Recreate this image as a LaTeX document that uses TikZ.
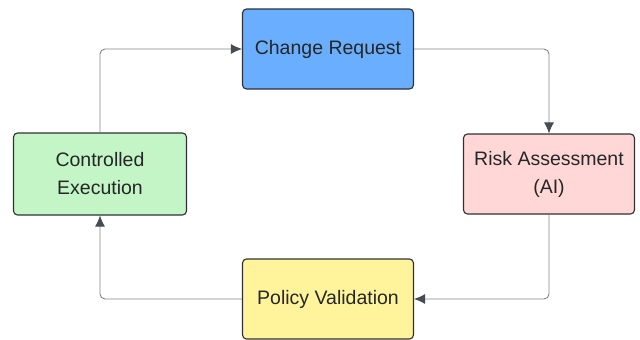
\documentclass[tikz,border=0pt]{standalone}
\usepackage{fontspec}
\setmainfont{Liberation Sans}
\usetikzlibrary{positioning,arrows.meta}

\definecolor{reqblue}{HTML}{6AAEFF}
\definecolor{riskpink}{HTML}{FFD7D7}
\definecolor{polyellow}{HTML}{FFF49C}
\definecolor{execgreen}{HTML}{C3F5C6}
\definecolor{edgegray}{HTML}{2F3133}
\definecolor{linkgray}{HTML}{80848B}
\definecolor{tipgray}{HTML}{474B52}

\begin{document}
\begin{tikzpicture}[
  x=1pt, y=-1pt,
  >={Latex[length=11pt,width=10pt,color=tipgray]},
  box/.style={draw=edgegray, line width=1.1pt, rounded corners=4pt,
    minimum width=171pt, minimum height=80pt, align=center,
    font=\fontsize{19.5}{28}\selectfont, text=black!85},
  link/.style={->, draw=linkgray, line width=0.9pt, rounded corners=5pt}
]
  \useasboundingbox (0,0) rectangle (640,340);

  % the four steps
  \node[box, fill=reqblue]   (Req)  at (328,49)  {Change Request};
  \node[box, fill=riskpink]  (Risk) at (549,174) {Risk Assessment\\(AI)};
  \node[box, fill=polyellow] (Pol)  at (328,299) {Policy Validation};
  \node[box, fill=execgreen, minimum width=173pt, minimum height=82pt]
    (Exec) at (100,174) {Controlled\\Execution};

  % cycle
  \draw[link] (Req.east)  -| (Risk.north);
  \draw[link] (Risk.south) |- (Pol.east);
  \draw[link] (Pol.west)  -| (Exec.south);
  \draw[link] (Exec.north) |- (Req.west);
\end{tikzpicture}
\end{document}
